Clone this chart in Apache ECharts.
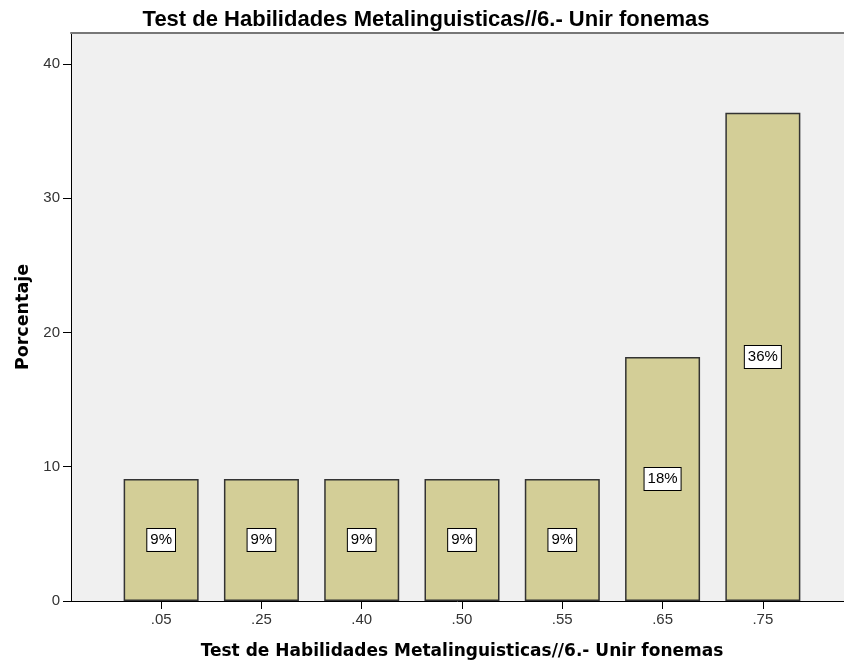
<!DOCTYPE html>
<html>
<head>
<meta charset="utf-8">
<script src="https://cdn.jsdelivr.net/npm/echarts@6/dist/echarts.min.js"></script>
<style>
  html, body { margin: 0; padding: 0; background: #fff; }
  #chart { width: 844px; height: 668px; }
</style>
</head>
<body>
<div id="chart"></div>
<script>
// datos
const categories = ['.05', '.25', '.40', '.50', '.55', '.65', '.75']
const percentValues = [9.09, 9.09, 9.09, 9.09, 9.09, 18.18, 36.36]
const percentLabels = ['9%', '9%', '9%', '9%', '9%', '18%', '36%']
const yTicks = [0, 10, 20, 30, 40]

const chartTitle = 'Test de Habilidades Metalinguisticas//6.- Unir fonemas'
const yMax = 42.3

const chart = echarts.init(document.getElementById('chart'))

const option = {
  animation: false,
  title: {
    text: chartTitle,
    left: 421,
    textAlign: 'center',
    top: 4,
    textStyle: {
      fontFamily: 'Liberation Sans',
      fontWeight: 'bold',
      fontSize: 22,
      color: '#000'
    }
  },
  // grid 0: fondo + eje Y ; grid 1: barras
  grid: [
    {
      left: 71, right: 0, top: 33, bottom: 67,
      outerBoundsMode: 'none',
      show: true,
      backgroundColor: '#f0f0f0',
      borderWidth: 0
    },
    {
      left: 111, right: 31, top: 33, bottom: 67,
      outerBoundsMode: 'none'
    }
  ],
  xAxis: [
    {
      gridIndex: 0,
      type: 'category',
      data: [''],
      position: 'bottom',
      axisLine: { show: true, lineStyle: { color: '#000', width: 1 } },
      axisTick: { show: false },
      axisLabel: { show: false },
      name: chartTitle,
      nameLocation: 'middle',
      nameGap: 42,
      nameTextStyle: {
        fontFamily: 'DejaVu Sans',
        fontWeight: 'bold',
        fontSize: 17,
        color: '#000',
        padding: [0, 0, 0, 9]
      }
    },
    {
      gridIndex: 0,
      type: 'category',
      data: [''],
      position: 'top',
      axisLine: { show: true, lineStyle: { color: '#777', width: 2 } },
      axisTick: { show: false },
      axisLabel: { show: false }
    },
    {
      gridIndex: 1,
      type: 'category',
      data: categories,
      axisLine: { show: false },
      axisTick: { show: true, alignWithLabel: true, length: 8, lineStyle: { color: '#000' } },
      axisLabel: {
        color: '#333',
        fontFamily: 'Liberation Sans',
        fontSize: 15,
        margin: 11
      }
    }
  ],
  yAxis: [
    {
      gridIndex: 0,
      type: 'value',
      min: 0,
      max: yMax,
      axisLine: { show: true, lineStyle: { color: '#000', width: 1 } },
      axisTick: { show: true, length: 8, customValues: yTicks, lineStyle: { color: '#000' } },
      axisLabel: {
        customValues: yTicks,
        color: '#333',
        fontFamily: 'Liberation Sans',
        fontSize: 15,
        margin: 11
      },
      splitLine: { show: false },
      name: 'Porcentaje',
      nameLocation: 'middle',
      nameGap: 38,
      nameRotate: 90,
      nameTextStyle: {
        fontFamily: 'DejaVu Sans',
        fontWeight: 'bold',
        fontSize: 17.5,
        color: '#000'
      }
    },
    {
      gridIndex: 1,
      type: 'value',
      min: 0,
      max: yMax,
      show: false
    }
  ],
  series: [
    {
      type: 'bar',
      xAxisIndex: 2,
      yAxisIndex: 1,
      data: percentValues,
      barWidth: 75,
      itemStyle: {
        color: '#d3ce97',
        borderColor: '#333',
        borderWidth: 1.5
      },
      label: {
        show: true,
        position: 'inside',
        formatter: (p) => percentLabels[p.dataIndex],
        color: '#000',
        fontFamily: 'Liberation Sans',
        fontSize: 15,
        backgroundColor: '#fff',
        borderColor: '#000',
        borderWidth: 1,
        padding: [4, 3, 3, 3]
      }
    }
  ]
}

chart.setOption(option)
</script>
</body>
</html>
